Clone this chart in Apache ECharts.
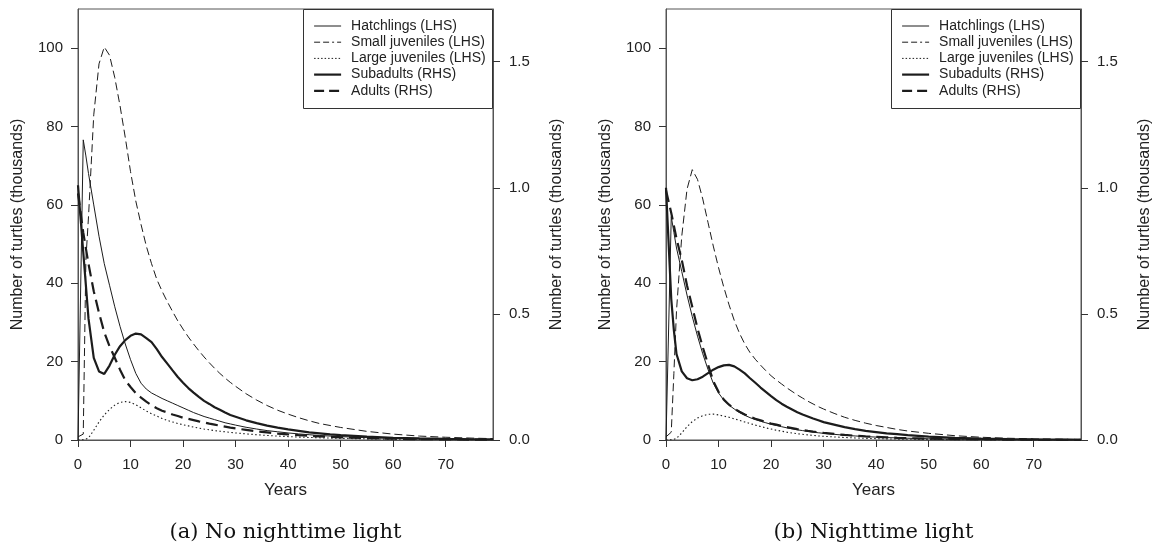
<!DOCTYPE html>
<html>
<head>
<meta charset="utf-8">
<script src="https://cdn.jsdelivr.net/npm/echarts@6/dist/echarts.min.js"></script>
<style>
  html, body { margin: 0; padding: 0; background: #fff; }
  #chart { width: 1158px; height: 545px; }
</style>
</head>
<body>
<div id="chart"></div>
<script>
// Simulation years (finer at the start, yearly to 30, then coarser where the curves flatten out)
const years = [0,1,1.5,2,3,4,5,6,7,8,9,10,11,12,13,14,15,16,17,18,19,20,21,22,23,24,25,26,27,28,29,30,
  32,34,36,38,40,42,44,46,48,50,55,60,65,70,75,79];

const xTicks = [0,10,20,30,40,50,60,70];
const leftTicks = [0,20,40,60,80,100];
const rightTicks = [0,0.5,1.0,1.5];

const seriesNames = ['Hatchlings (LHS)','Small juveniles (LHS)','Large juveniles (LHS)','Subadults (RHS)','Adults (RHS)'];
const captions = ['(a) No nighttime light','(b) Nighttime light'];

// (a) No nighttime light — thousands of turtles
const hatchA = [0,76.6,72.5,68,60,52,45,39.5,34,29,24.5,20.5,17,14.5,13,12,11.3,10.6,10,9.4,8.8,8.2,7.6,7.0,6.5,6.0,5.6,5.2,4.8,4.4,4.1,3.8,
  3.25,2.8,2.4,2.1,1.8,1.55,1.35,1.15,1.0,0.86,0.6,0.41,0.29,0.2,0.14,0.1];
const smallA = [0.8,1.5,46,57,83,96,100.3,98.2,92.5,85.3,77.2,68.5,61,55,49.5,45,41,38,35.3,32.8,30.4,28.3,26.3,24.5,22.8,21.2,19.7,18.3,17,15.8,14.7,13.7,
  11.8,10.2,8.8,7.6,6.6,5.7,4.9,4.2,3.7,3.2,2.2,1.5,1.0,0.7,0.48,0.35];
const largeA = [0,0.1,0.25,0.5,2.5,4.6,6.4,7.8,8.9,9.6,9.8,9.6,9.0,8.2,7.4,6.7,6.1,5.5,5.0,4.6,4.2,3.9,3.6,3.3,3.05,2.8,2.6,2.4,2.25,2.1,1.95,1.8,
  1.56,1.35,1.16,1.0,0.87,0.75,0.65,0.56,0.48,0.42,0.29,0.2,0.14,0.1,0.07,0.05];
const subA = [1.01,0.745,0.613,0.481,0.326,0.272,0.262,0.295,0.338,0.372,0.396,0.413,0.422,0.419,0.404,0.388,0.360,0.329,0.303,0.276,0.250,0.227,0.206,0.188,0.171,0.155,0.143,0.130,0.120,0.109,0.099,0.092,
  0.078,0.067,0.057,0.049,0.042,0.036,0.030,0.026,0.022,0.019,0.013,0.009,0.0061,0.0042,0.0029,0.0021];
const adultA = [0.978,0.823,0.760,0.698,0.590,0.504,0.427,0.372,0.326,0.279,0.237,0.210,0.186,0.168,0.152,0.138,0.126,0.116,0.109,0.101,0.095,0.088,0.084,0.079,0.074,0.070,0.065,0.061,0.057,0.053,0.049,0.046,
  0.040,0.034,0.030,0.0256,0.022,0.019,0.0165,0.0142,0.0123,0.0106,0.0074,0.0051,0.0036,0.0025,0.0017,0.0013];

// (b) Nighttime light — thousands of turtles
const hatchB = [0,57,53,49,43,37,31.5,26.5,22,18,14.5,12,10.2,8.9,7.9,7.0,6.3,5.7,5.2,4.8,4.4,4.0,3.7,3.4,3.1,2.85,2.6,2.4,2.2,2.0,1.85,1.7,
  1.45,1.22,1.03,0.87,0.74,0.63,0.53,0.45,0.38,0.32,0.21,0.14,0.09,0.06,0.04,0.03];
const smallB = [0.8,2,17,33,52,64,69,66.5,61.5,55.5,49.5,44,39,34.5,30.5,27.2,24.5,22.3,20.6,19.1,17.7,16.4,15.3,14.3,13.3,12.4,11.5,10.7,9.9,9.2,8.5,7.9,
  6.8,5.8,5.0,4.3,3.7,3.2,2.7,2.3,2.0,1.7,1.1,0.7,0.45,0.3,0.2,0.15];
const largeB = [0,0.1,0.2,0.4,1.8,3.4,4.7,5.6,6.2,6.55,6.6,6.4,6.1,5.8,5.4,5.0,4.6,4.2,3.8,3.45,3.1,2.8,2.5,2.25,2.0,1.8,1.6,1.45,1.3,1.17,1.05,0.95,
  0.78,0.64,0.52,0.43,0.35,0.29,0.24,0.2,0.16,0.13,0.08,0.05,0.03,0.02,0.01,0.01];
const subB = [1.00,0.559,0.435,0.341,0.272,0.245,0.237,0.241,0.251,0.265,0.279,0.289,0.296,0.298,0.292,0.279,0.264,0.245,0.227,0.208,0.191,0.174,0.158,0.144,0.132,0.121,0.110,0.101,0.093,0.085,0.078,0.071,
  0.061,0.051,0.043,0.036,0.031,0.026,0.023,0.019,0.016,0.013,0.0085,0.0054,0.0034,0.0022,0.0014,0.0009];
const adultB = [0.99,0.900,0.850,0.799,0.714,0.613,0.528,0.442,0.368,0.300,0.233,0.191,0.160,0.140,0.124,0.112,0.101,0.092,0.084,0.078,0.071,0.065,0.061,0.056,0.051,0.047,0.043,0.040,0.036,0.033,0.031,0.028,
  0.024,0.020,0.017,0.0144,0.0123,0.0104,0.0088,0.0074,0.0064,0.0054,0.0036,0.0023,0.0016,0.001,0.0007,0.0005];

const panels = [
  { left: 78, data: [hatchA, smallA, largeA, subA, adultA] },
  { left: 666, data: [hatchB, smallB, largeB, subB, adultB] }
];

const PLOT_W = 415, PLOT_TOP = 9, PLOT_H = 431;
const INK = '#1c1c1c', FRAME = '#555', SANS = 'Liberation Sans, Arial, Helvetica, sans-serif';

// line look per stage: thin solid, thin dashed, dotted, thick solid, thick dashed
const styles = [
  { width: 1, type: 'solid' },
  { width: 1, type: [8, 4] },
  { width: 1.1, type: [1.5, 2.5] },
  { width: 2.2, type: 'solid' },
  { width: 2.2, type: [12, 6] }
];
const legendStyles = [
  { width: 1, type: 'solid' },
  { width: 1, type: [6, 3, 6, 3, 2, 3] },
  { width: 1, type: [1.5, 2] },
  { width: 2.2, type: 'solid' },
  { width: 2.2, type: [10, 5] }
];

const grid = [], xAxis = [], yAxis = [], series = [], legend = [], graphic = [];

panels.forEach((p, k) => {
  grid.push({ left: p.left, top: PLOT_TOP, width: PLOT_W, height: PLOT_H, show: true,
    borderColor: FRAME, borderWidth: 1, backgroundColor: 'transparent' });

  xAxis.push({
    gridIndex: k, type: 'value', min: 0, max: 79,
    axisLine: { show: true, onZero: false, lineStyle: { color: FRAME, width: 1 } },
    axisTick: { show: true, length: 7, customValues: xTicks, lineStyle: { color: '#333' } },
    axisLabel: { customValues: xTicks, fontSize: 15, color: '#222', margin: 17, fontFamily: SANS },
    splitLine: { show: false },
    name: 'Years', nameLocation: 'middle', nameGap: 42,
    nameTextStyle: { fontSize: 17, color: '#222', fontFamily: SANS }
  });

  yAxis.push({
    gridIndex: k, type: 'value', position: 'left', min: 0, max: 110,
    axisLine: { show: true, lineStyle: { color: FRAME, width: 1 } },
    axisTick: { show: true, length: 7, customValues: leftTicks, lineStyle: { color: '#333' } },
    axisLabel: { customValues: leftTicks, fontSize: 15, color: '#222', margin: 15, fontFamily: SANS },
    splitLine: { show: false },
    name: 'Number of turtles (thousands)', nameLocation: 'middle', nameRotate: 90, nameGap: 52,
    nameTextStyle: { fontSize: 16, color: '#222', fontFamily: SANS }
  });

  yAxis.push({
    gridIndex: k, type: 'value', position: 'right', min: 0, max: 1.709,
    axisLine: { show: true, lineStyle: { color: FRAME, width: 1 } },
    axisTick: { show: true, length: 7, customValues: rightTicks, lineStyle: { color: '#333' } },
    axisLabel: { customValues: rightTicks, fontSize: 15, color: '#222', margin: 16, fontFamily: SANS,
      formatter: v => v.toFixed(1) },
    splitLine: { show: false },
    name: 'Number of turtles (thousands)', nameLocation: 'middle', nameRotate: 90, nameGap: 56,
    nameTextStyle: { fontSize: 16, color: '#222', fontFamily: SANS }
  });

  p.data.forEach((vals, i) => {
    series.push({
      name: seriesNames[i], type: 'line',
      xAxisIndex: k, yAxisIndex: k * 2 + (i < 3 ? 0 : 1),
      data: years.map((t, j) => [t, vals[j]]),
      symbol: 'none', smooth: false, silent: true,
      lineStyle: { color: INK, width: styles[i].width, type: styles[i].type },
      itemStyle: { color: INK },
      z: 3 + i
    });
  });

  // legend frame sits in the plot's upper-right corner
  graphic.push({ type: 'rect', silent: true, z: 10,
    shape: { x: p.left + 225.5, y: PLOT_TOP + 0.5, width: 189, height: 99 },
    style: { fill: '#fff', stroke: '#333', lineWidth: 1 } });

  legend.push({
    orient: 'vertical', left: p.left + 235, top: PLOT_TOP + 10, padding: 0,
    itemWidth: 27, itemHeight: 13, itemGap: 2.2, z: 12,
    selectedMode: false,
    data: seriesNames.map((name, i) => ({
      name,
      lineStyle: { color: INK, width: legendStyles[i].width, type: legendStyles[i].type }
    })),
    // keep only the line sample, no marker dot
    itemStyle: { color: 'rgba(0,0,0,0)', borderColor: 'rgba(0,0,0,0)', borderWidth: 0, opacity: 0 },
    textStyle: { fontSize: 14, lineHeight: 13, color: '#222', fontFamily: SANS, padding: [0, 0, 0, 5] }
  });

  graphic.push({ type: 'text', silent: true,
    x: p.left + PLOT_W / 2, y: 533,
    style: { text: captions[k], textAlign: 'center', textVerticalAlign: 'middle',
      font: '21px "DejaVu Serif", "Liberation Serif", serif', fill: '#111' } });
});

const chart = echarts.init(document.getElementById('chart'), null, { renderer: 'canvas' });
chart.setOption({
  animation: false,
  backgroundColor: '#fff',
  grid, xAxis, yAxis, series, legend, graphic
});
</script>
</body>
</html>
